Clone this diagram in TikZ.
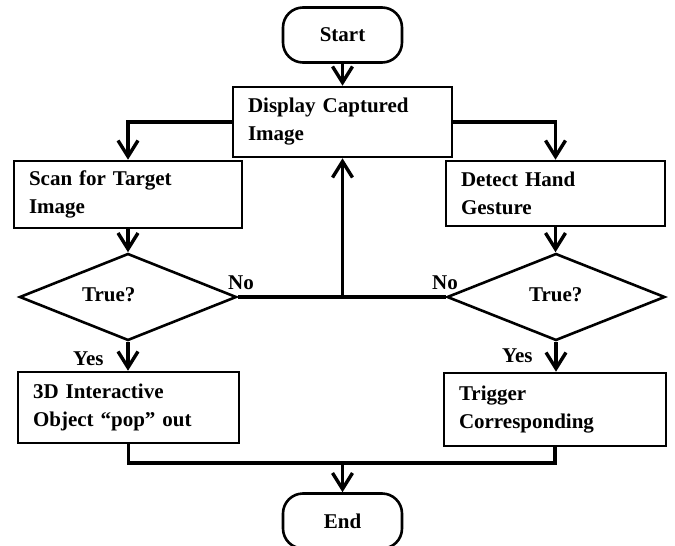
\documentclass[tikz,border=0pt]{standalone}
\usepackage{fontspec}
\setmainfont{Liberation Serif}
\usetikzlibrary{arrows.meta,shapes.geometric}

\begin{document}
\begin{tikzpicture}[x=1pt,y=-1pt,
  font=\fontsize{21}{28}\selectfont\bfseries,
  terminal/.style={draw,line width=2.6pt,rounded corners=20pt,inner sep=0pt,
    minimum width=119pt,minimum height=55pt},
  procbox/.style={draw,line width=2.6pt,inner xsep=15pt,inner ysep=0pt,align=left},
  decision/.style={draw,diamond,line width=2.6pt,inner sep=0pt},
  lbl/.style={anchor=base west,inner sep=0pt},
  conn/.style={line width=3.4pt},
  arr/.style={conn,-{Straight Barb[length=16pt,width=20pt]}}]
\useasboundingbox (0,0) rectangle (675,546);

% terminals
\node[terminal] (start) at (342.5,35) {Start};
\node[terminal] (end) at (342.5,521) {End};

% process boxes
\node[procbox,text width=189pt,minimum height=70pt] (disp) at (342.5,122)
  {Display Captured\\Image};
\node[procbox,text width=198pt,minimum height=67pt] (scan) at (128,194.5)
  {Scan for Target\\Image};
\node[procbox,text width=189pt,minimum height=65pt] (detect) at (555.5,193.5)
  {Detect Hand\\Gesture};
\node[procbox,text width=191pt,minimum height=71pt] (pop) at (128.5,407.5)
  {3D Interactive\\Object “pop” out};
\node[procbox,text width=192pt,minimum height=73pt] (trig) at (555,409.5)
  {Trigger\\Corresponding};

% decisions
\node[decision,minimum width=217pt,minimum height=87pt] (q1) at (128,297) {};
\node[decision,minimum width=218pt,minimum height=87pt] (q2) at (556,297) {};
\node[lbl] (q1t) at (82,301) {True?};
\node[lbl] (q2t) at (529,301) {True?};

% branch labels
\node[lbl] (no1) at (228,289) {No};
\node[lbl] (no2) at (432,289) {No};
\node[lbl] (yes1) at (73,365) {Yes};
\node[lbl] (yes2) at (502,362) {Yes};

% connectors
\draw[arr] (start) -- (disp);
\draw[arr] (disp.west) -| (scan.north);
\draw[arr] (disp.east) -| (detect.north);
\draw[arr] (scan.south) -- (q1.north);
\draw[arr] (detect.south) -- (detect.south |- q2.north);
\coordinate (j) at (disp.south |- q1.east);
\draw[conn] (q1.east) -- (q2.west);
\draw[arr] (j) -- (disp.south);
\draw[arr] (q1.south) -- (q1.south |- pop.north);
\draw[arr] (q2.south) -- (q2.south |- trig.north);
\coordinate (m) at (342.5,463);
\draw[conn] (pop.south) |- (m) -| (trig.south);
\draw[arr] (m) -- (end.north);
\end{tikzpicture}
\end{document}
